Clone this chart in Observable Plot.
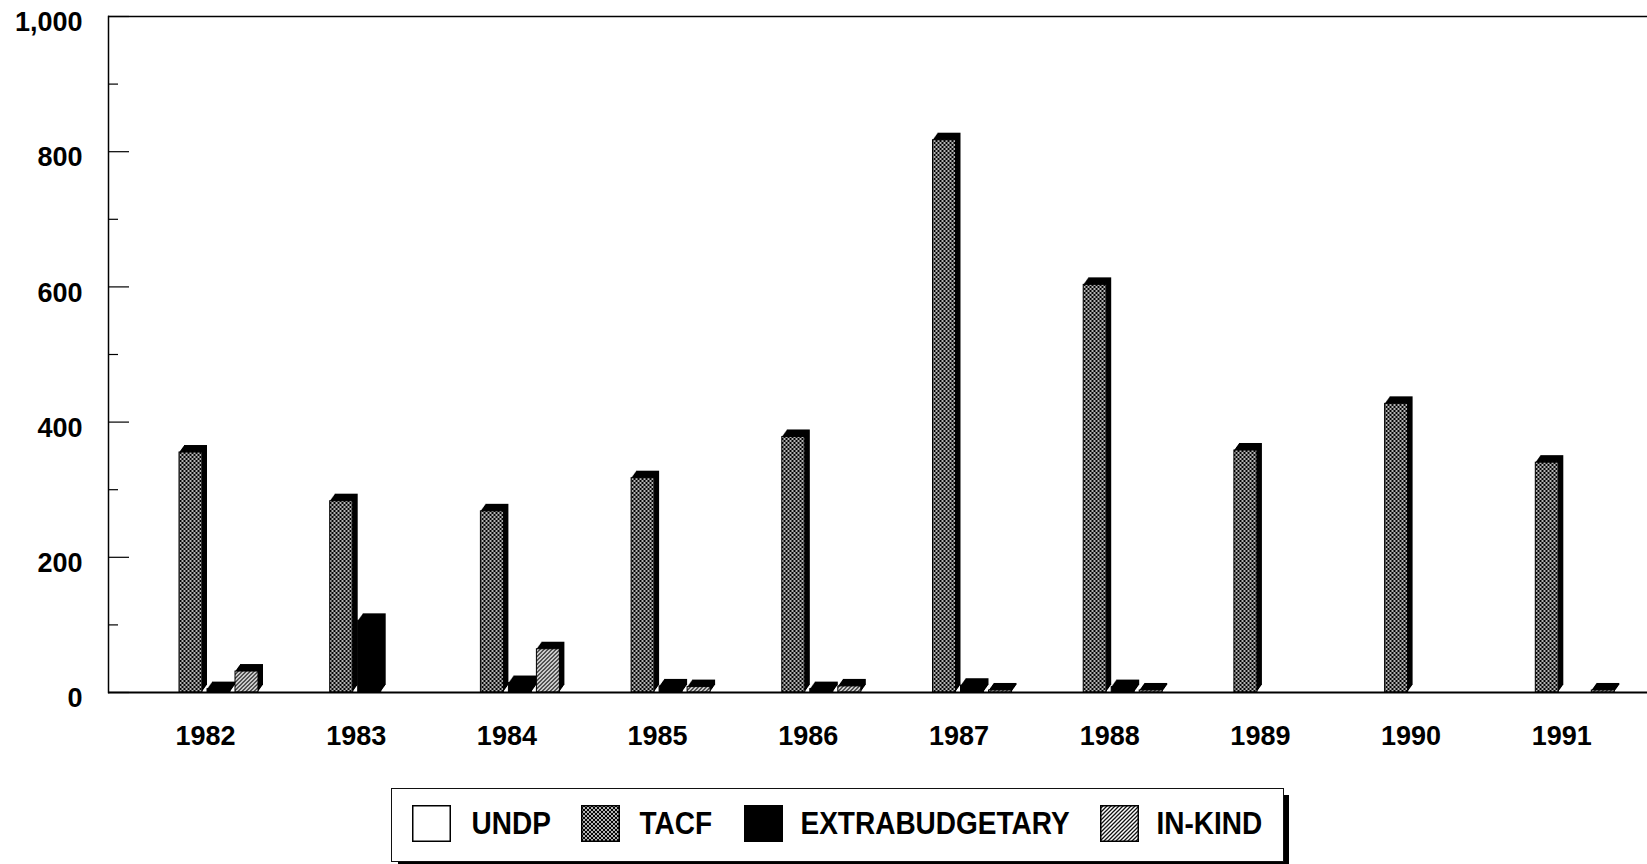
<!DOCTYPE html>
<html>
<head>
<meta charset="utf-8">
<script src="https://cdn.jsdelivr.net/npm/d3@7"></script>
<script src="https://cdn.jsdelivr.net/npm/@observablehq/plot@0.6"></script>
<style>
  html, body { margin: 0; padding: 0; background: #fff; }
  #wrap { position: relative; width: 1647px; height: 864px; overflow: hidden; }
  #legend {
    position: absolute; left: 391px; top: 788px; width: 893px; height: 74px;
    border: 1.5px solid #111; box-sizing: border-box;
    box-shadow: 6px 6px 0 -1px #000;
    font-family: "Liberation Sans", Arial, sans-serif; font-weight: bold; font-size: 28px; color: #000;
  }
  #legend svg, #legend span { position: absolute; display: block; }
  #legend span { line-height: 1; transform: scaleY(1.12); }
</style>
</head>
<body>
<svg width="0" height="0" style="position:absolute">
  <defs>
    <pattern id="pat-tacf" width="4" height="4" patternUnits="userSpaceOnUse">
      <rect width="4" height="4" fill="#050505"/>
      <rect x="0" y="0" width="2" height="2" fill="#b4b4b4"/>
      <rect x="2" y="2" width="2" height="2" fill="#b4b4b4"/>
    </pattern>
    <pattern id="pat-inkind" width="4" height="4" patternUnits="userSpaceOnUse">
      <rect width="4" height="4" fill="#fff"/>
      <path d="M-1,1 l2,-2 M0,4 l4,-4 M3,5 l2,-2" stroke="#111" stroke-width="1.3"/>
    </pattern>
  </defs>
</svg>
<div id="wrap">
  <div id="chart"></div>
  <div id="legend"></div>
</div>
<script>
const years = ["1982", "1983", "1984", "1985", "1986", "1987", "1988", "1989", "1990", "1991"];
const seriesNames = ["UNDP", "TACF", "EXTRABUDGETARY", "IN-KIND"];
const undp   = [0, 0, 0, 0, 0, 0, 0, 0, 0, 0];
const tacf   = [355, 283, 268, 317, 378, 817, 603, 358, 427, 340];
const extra  = [5, 106, 14, 9, 5, 10, 8, 0, 0, 0];
const inkind = [31, 0, 64, 8, 9, 3, 3, 0, 0, 3];
const yTicks = [0, 200, 400, 600, 800, 1000];
const yMinorTicks = [100, 300, 500, 700, 900];

const seriesValues = [undp, tacf, extra, inkind];
const seriesFill = ["#fff", "url(#pat-tacf)", "#000", "url(#pat-inkind)"];
const slotOffset = [-42.5, -14.5, 13.5, 41.5]; // px offset of each bar within a year
const depthX = 5, depthY = 7;

const rows = seriesNames.map((s, i) => years.map((y, j) => ({year: y, series: s, value: seriesValues[i][j]})));

const W = 1647, H = 780;
const marks = [];
rows.forEach((data, i) => {
  const d = data.filter(r => r.value > 0);
  for (let k = depthY; k >= 1; k--) {
    marks.push(Plot.barY(d, {x: "year", y: "value", fill: "#000", insetLeft: 63.85, insetRight: 63.85,
      dx: slotOffset[i] + k * depthX / depthY, dy: -k}));
  }
  marks.push(Plot.barY(d, {x: "year", y: "value", fill: seriesFill[i], stroke: "#000", strokeWidth: 1,
    insetLeft: 63.85, insetRight: 63.85, dx: slotOffset[i]}));
});

const chart = Plot.plot({
  width: W, height: H,
  marginLeft: 108, marginRight: 0, marginTop: 16, marginBottom: H - 692,
  style: {fontFamily: "'Liberation Sans', Arial, sans-serif", fontWeight: "bold", color: "#000", background: "#fff"},
  x: {domain: years, range: [129.65, 1636.65], padding: 0, round: false, label: null},
  y: {domain: [0, 1000], label: null},
  marks: [
    Plot.frame({anchor: "left", stroke: "#000", strokeWidth: 1.5}),
    Plot.ruleY([1000], {stroke: "#000", strokeWidth: 1.5}),
    Plot.axisY(yTicks, {tickSize: 0, tickPadding: 26, tickFormat: d3.format(","), fontSize: 27, fontWeight: "bold", dy: 6, label: null}),
    Plot.axisY(yTicks, {tickSize: 21, dx: 21, tickFormat: () => "", stroke: "#000", strokeWidth: 1.2, label: null}),
    Plot.axisY(yMinorTicks, {tickSize: 10, dx: 10, tickFormat: () => "", stroke: "#000", strokeWidth: 1.2, label: null}),
    Plot.axisX({tickSize: 0, tickPadding: 33, fontSize: 27, fontWeight: "bold", label: null}),
    ...marks,
    Plot.ruleY([0], {stroke: "#000", strokeWidth: 2})
  ]
});
document.getElementById("chart").appendChild(chart);

// legend (positions relative to the legend box)
const legend = document.getElementById("legend");
const swatchLeft = [19.5, 188.5, 351.5, 707.5];
const textLeft = [79.5, 247.5, 408.5, 764.5];
seriesNames.forEach((name, i) => {
  const sw = document.createElementNS("http://www.w3.org/2000/svg", "svg");
  sw.setAttribute("width", 39); sw.setAttribute("height", 37);
  sw.style.left = swatchLeft[i] + "px"; sw.style.top = "16px";
  sw.innerHTML = `<rect x="0.75" y="0.75" width="37.5" height="35.5" fill="${seriesFill[i]}" stroke="#000" stroke-width="1.5"/>`;
  legend.appendChild(sw);
  const t = document.createElement("span");
  t.textContent = name;
  t.style.left = textLeft[i] + "px"; t.style.top = "21px";
  legend.appendChild(t);
});
</script>
</body>
</html>
